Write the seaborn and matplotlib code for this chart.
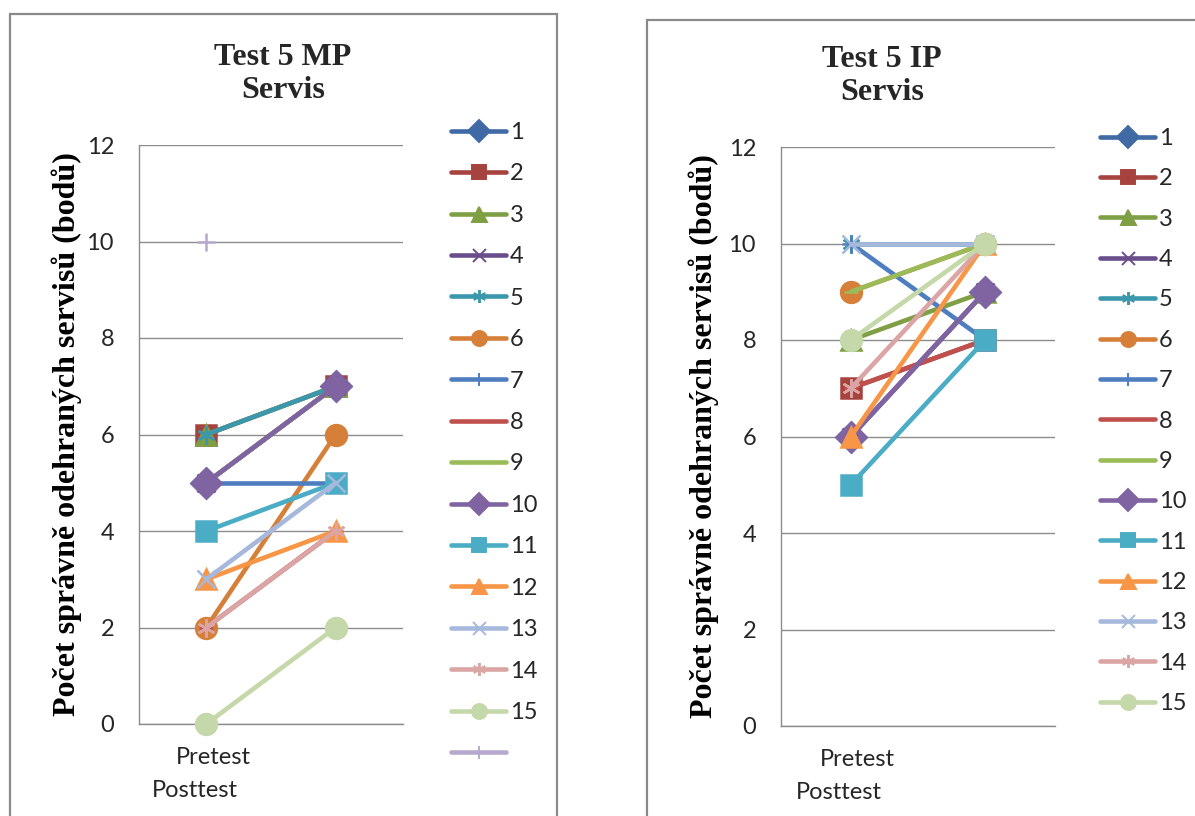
import numpy as np
import pandas as pd
import matplotlib
matplotlib.use("Agg")
import matplotlib.pyplot as plt
import seaborn as sns
from matplotlib.lines import Line2D
from matplotlib.patches import Rectangle

# ---- data -------------------------------------------------------------
phases = ["Pretest", "Posttest"]

mp_students = ["1", "2", "3", "4", "5", "6", "7", "8", "9", "10",
               "11", "12", "13", "14", "15", ""]
mp_pretest = [5, 6, 6, 5, 6, 2, 5, 2, 5, 5, 4, 3, 3, 2, 0, 10]
mp_posttest = [7, 7, 7, 7, 7, 6, 5, 4, 7, 7, 5, 4, 5, 4, 2, np.nan]

ip_students = ["1", "2", "3", "4", "5", "6", "7", "8", "9", "10",
               "11", "12", "13", "14", "15"]
ip_pretest = [6, 7, 8, 6, 10, 9, 10, 7, 9, 6, 5, 6, 10, 7, 8]
ip_posttest = [9, 8, 9, 9, 10, 10, 8, 8, 10, 9, 8, 10, 10, 10, 10]

y_ticks = [0, 2, 4, 6, 8, 10, 12]

# Office 2007 style series colours and markers
colors = ["#3F6AA4", "#A6433F", "#7F9F45", "#6A4E8C", "#3A97AC", "#D57F39",
          "#4F7EC0", "#C0504D", "#9BBB59", "#8064A2", "#4BACC6", "#F79646",
          "#A6B9DC", "#DAA5A4", "#C5D8A9", "#B7A9CE"]
markers = ["D", "s", "^", "x", (6, 2, 0), "o", "+", "_", "_",
           "D", "s", "^", "x", (6, 2, 0), "o", "+"]
msizes = [15, 14.5, 15, 13, 13, 15, 13, 10, 10, 15, 14.5, 15, 13, 13, 15, 13]

SANS = 17

sns.set_theme(style="white")
plt.rcParams["font.family"] = ["Lato", "DejaVu Sans"]

fig = plt.figure(figsize=(11.95, 8.16), dpi=100)
W, H = 1195, 816


def fx(px):
    return px / W


def fy(py):
    return 1 - py / H


# chart frames
fig.patches.append(Rectangle((fx(10), fy(830)), fx(547), fy(14) - fy(830),
                             transform=fig.transFigure, fill=False,
                             edgecolor="#8A8A8A", linewidth=1.6))
fig.patches.append(Rectangle((fx(647), fy(830)), fx(560), fy(20) - fy(830),
                             transform=fig.transFigure, fill=False,
                             edgecolor="#8A8A8A", linewidth=1.6))


def draw_panel(rect, title, title_xy, students, pre, post, legend_anchor,
               legend_spacing, ylabel_x):
    ax = fig.add_axes(rect)
    rows = []
    for i, s in enumerate(students):
        for j, v in enumerate([pre[i], post[i]]):
            rows.append({"student": i, "x": j, "score": v})
    df = pd.DataFrame(rows)
    for i in range(len(students)):
        sub = df[df["student"] == i].dropna()
        sns.lineplot(data=sub, x="x", y="score", ax=ax, color=colors[i],
                     marker=markers[i], markersize=msizes[i],
                     markeredgecolor=colors[i], markerfacecolor=colors[i],
                     markeredgewidth=1.8, linewidth=3.3, sort=False,
                     legend=False, zorder=3 + i, solid_capstyle="round",
                     clip_on=False)
    ax.set_xlim(-0.52, 1.52)
    ax.set_ylim(0, 12)
    ax.set_yticks(y_ticks)
    ax.set_xticks([])
    ax.grid(axis="y", color="#8C8C8C", linewidth=1.0)
    ax.set_axisbelow(True)
    for side in ["top", "right"]:
        ax.spines[side].set_visible(False)
    for side in ["left", "bottom"]:
        ax.spines[side].set_color("#8C8C8C")
        ax.spines[side].set_linewidth(1.0)
    ax.tick_params(axis="y", left=True, length=0, pad=18,
                   labelsize=SANS, labelcolor="#262626")
    ax.set_xlabel("")
    ax.set_ylabel("Počet správně odehraných servisů (bodů)",
                  family="Liberation Serif", fontweight="bold", fontsize=23,
                  color="black")
    ax.yaxis.set_label_coords(ylabel_x, 0.5)
    ax.text(0.28, -0.058, phases[0], transform=ax.transAxes, ha="center",
            va="center", fontsize=SANS, color="#262626")
    ax.text(0.212, -0.114, phases[1], transform=ax.transAxes, ha="center",
            va="center", fontsize=SANS, color="#262626")
    fig.text(fx(title_xy[0]), fy(title_xy[1]), title, ha="center",
             va="center", family="Liberation Serif", fontweight="bold",
             fontsize=23, linespacing=1.15)

    handles = [Line2D([], [], color=colors[i], marker=markers[i],
                      markersize=msizes[i] * 0.72, markeredgecolor=colors[i],
                      markerfacecolor=colors[i], markeredgewidth=1.4,
                      linewidth=3.3, solid_capstyle="round")
               for i in range(len(students))]
    fig.legend(handles, students, loc="upper left",
               bbox_to_anchor=legend_anchor, frameon=False, fontsize=SANS,
               handlelength=2.33, handletextpad=0.17,
               labelspacing=legend_spacing, borderaxespad=0, borderpad=0,
               labelcolor="#262626")
    return ax


draw_panel([fx(139), fy(724), fx(264), fy(145) - fy(724)],
           "Test 5 MP\nServis", (283, 74), mp_students,
           mp_pretest, mp_posttest, (fx(451), fy(122)), 0.865, -0.215)
draw_panel([fx(781), fy(726), fx(274), fy(147) - fy(726)],
           "Test 5 IP\nServis", (882, 76), ip_students,
           ip_pretest, ip_posttest, (fx(1100), fy(128)), 0.82, -0.225)

fig.savefig("out.png", dpi=100)
